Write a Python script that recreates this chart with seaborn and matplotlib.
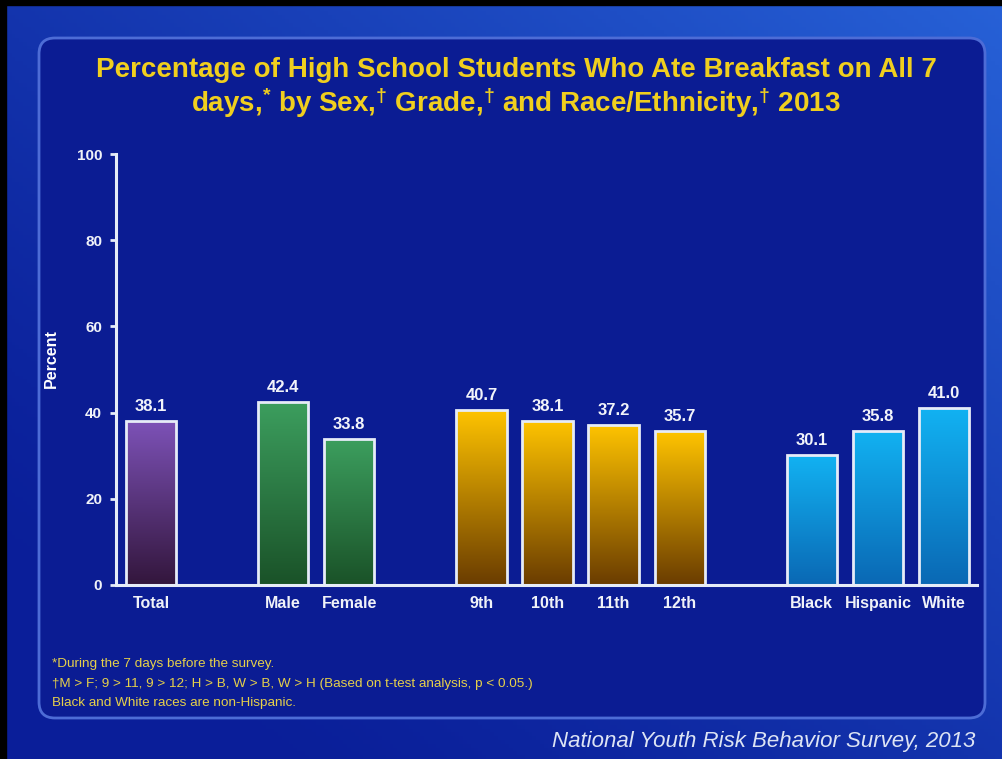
import numpy as np
import pandas as pd
import matplotlib
matplotlib.use("Agg")
import matplotlib.pyplot as plt
import seaborn as sns
from matplotlib.colors import LinearSegmentedColormap
from matplotlib.patches import FancyBboxPatch, Rectangle
from matplotlib.transforms import IdentityTransform

# ---------------- data ----------------
categories = ["Total", "Male", "Female", "9th", "10th", "11th", "12th", "Black", "Hispanic", "White"]
values = [38.1, 42.4, 33.8, 40.7, 38.1, 37.2, 35.7, 30.1, 35.8, 41.0]
groups = ["Total", "Sex", "Sex", "Grade", "Grade", "Grade", "Grade", "Race", "Race", "Race"]
y_ticks = [0, 20, 40, 60, 80, 100]
title_lines = [
    "Percentage of High School Students Who Ate Breakfast on All 7",
    "days,$^{*}$ by Sex,$^{\\dagger}$ Grade,$^{\\dagger}$ and Race/Ethnicity,$^{\\dagger}$ 2013",
]
footnotes = [
    "*During the 7 days before the survey.",
    "\u2020M > F; 9 > 11, 9 > 12; H > B, W > B, W > H (Based on t-test analysis, p < 0.05.)",
    "Black and White races are non-Hispanic.",
]
source = "National Youth Risk Behavior Survey, 2013"

# gradient colours per group (bottom, top)
grad_colors = {
    "Total": ("#33163c", "#7d52b8"),
    "Sex": ("#1a5228", "#3c9e5e"),
    "Grade": ("#6a3c00", "#ffc400"),
    "Race": ("#0a68b4", "#12b2f2"),
}

df = pd.DataFrame({"category": categories, "value": values, "group": groups})

# order with blank spacers between groups
order = []
prev = None
spacer = 0
for c, g in zip(categories, groups):
    if prev is not None and g != prev:
        spacer += 1
        order.append(" " * spacer)
    order.append(c)
    prev = g

W, H = 1003, 759
fig = plt.figure(figsize=(W / 100, H / 100), dpi=100)
plt.rcParams['font.family'] = ['Liberation Sans', 'DejaVu Sans']
plt.rcParams['mathtext.fontset'] = 'custom'
plt.rcParams['mathtext.rm'] = 'Liberation Sans:bold'
plt.rcParams['mathtext.it'] = 'Liberation Sans:bold'
plt.rcParams['mathtext.bf'] = 'Liberation Sans:bold'

# ---------------- background ----------------
bg = fig.add_axes([0, 0, 1, 1], zorder=-10)
yy, xx = np.mgrid[0:1:200j, 0:1:260j]
base = np.array([0.04, 0.12, 0.60])
light = np.array([0.16, 0.40, 0.86])
t = np.clip(0.55 * xx + 0.55 * (1 - yy) - 0.15, 0, 1) ** 1.3
img = base[None, None, :] * (1 - t[..., None]) + light[None, None, :] * t[..., None]
bg.imshow(img, extent=[0, 1, 0, 1], aspect="auto", origin="upper")
bg.set_xlim(0, 1); bg.set_ylim(0, 1)
bg.axis("off")

# black frame lines at top / left
fig.patches.append(Rectangle((0, H - 5), W, 5, transform=IdentityTransform(), color="black", zorder=-5))
fig.patches.append(Rectangle((0, 0), 6, H, transform=IdentityTransform(), color="black", zorder=-5))

# rounded panel
panel = FancyBboxPatch((39, H - 718), 946, 680, boxstyle="round,pad=0,rounding_size=16",
                       transform=IdentityTransform(), facecolor="#0b1c93", edgecolor="#4d6cd6",
                       linewidth=2, zorder=-4)
fig.patches.append(panel)

# ---------------- main axes ----------------
ax = fig.add_axes([116 / W, 1 - 585 / H, (977 - 116) / W, (585 - 154) / H])
ax.set_facecolor("none")
sns.barplot(data=df, x="category", y="value", hue="group", order=order, dodge=False,
            width=0.76, ax=ax, legend=False, edgecolor="#e6ecf8", linewidth=2,
            palette={g: grad_colors[g][1] for g in grad_colors})

# gradient fill for each bar
for cont, g in zip(ax.containers, pd.unique(df["group"])):
    cmap = LinearSegmentedColormap.from_list(g, list(grad_colors[g]))
    for p in cont.patches:
        x0, w, h = p.get_x(), p.get_width(), p.get_height()
        if not np.isfinite(h) or h == 0:
            continue
        grad = np.linspace(0, 1, 256).reshape(-1, 1)
        im = ax.imshow(grad, extent=[x0, x0 + w, 0, h], origin="lower", aspect="auto",
                       cmap=cmap, zorder=p.get_zorder() - 0.1)
        im.set_clip_path(p)
        p.set_facecolor("none")
        p.set_zorder(p.get_zorder() + 0.2)
    ax.bar_label(cont, fmt="%.1f", padding=5, color="#f2f4fa", fontsize=12, fontweight="bold")

ax.set_xlim(-0.53, len(order) - 0.5)
ax.set_ylim(0, 100)
ax.set_yticks(y_ticks)
ax.set_xlabel("")
ax.set_ylabel("Percent", color="white", fontsize=11.5, fontweight="bold")
ax.yaxis.set_label_coords(-0.066, (585 - 359) / (585 - 154))
for s in ["top", "right"]:
    ax.spines[s].set_visible(False)
for s in ["left", "bottom"]:
    ax.spines[s].set_color("#e6ecf8")
    ax.spines[s].set_linewidth(2.2)
ax.tick_params(axis="y", colors="#e6ecf8", length=4, width=2, labelsize=11, pad=6)
ax.tick_params(axis="x", length=0, colors="white", labelsize=11.5, pad=8)
for lbl in ax.get_yticklabels() + ax.get_xticklabels():
    lbl.set_fontweight("bold")
    lbl.set_color("#f0f2f8")

# ---------------- texts ----------------
for i, line in enumerate(title_lines):
    fig.text(516 / W, 1 - (70 + 33 * i) / H, line, ha="center", va="center", color="#f0cf1e",
             fontsize=20, fontweight="bold")
for i, line in enumerate(footnotes):
    fig.text(52 / W, 1 - (664 + 19.5 * i) / H, line, ha="left", va="center", color="#e6d04a", fontsize=9.7)
fig.text(975 / W, 1 - 742 / H, source, ha="right", va="center", color="#dde4f4",
         fontsize=16, style="italic")

fig.savefig("out.png", dpi=100)
